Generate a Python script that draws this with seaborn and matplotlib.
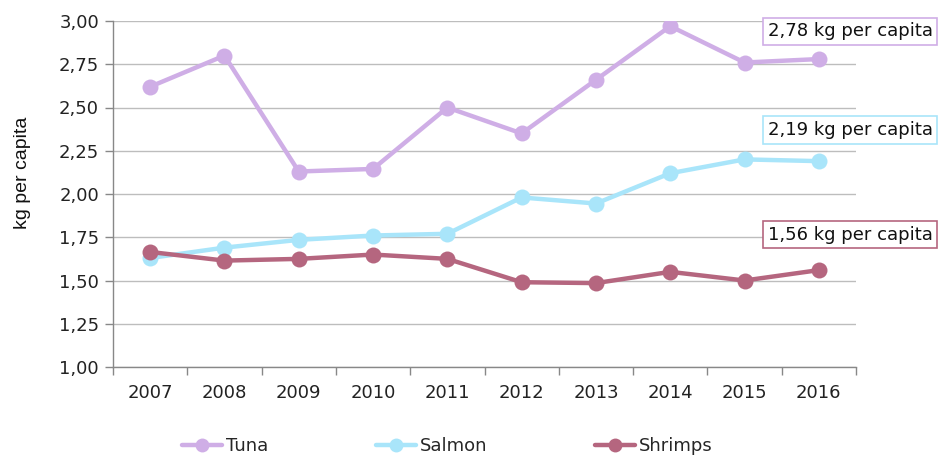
import pandas as pd
import matplotlib.pyplot as plt
import seaborn as sns
import numpy as np
from matplotlib.ticker import FixedLocator, FuncFormatter
from matplotlib.lines import Line2D

# --- Data ---
years = ['2007', '2008', '2009', '2010', '2011', '2012', '2013', '2014', '2015', '2016']
tuna = [2.62, 2.80, 2.13, 2.145, 2.50, 2.35, 2.66, 2.97, 2.76, 2.78]
salmon = [1.63, 1.69, 1.735, 1.76, 1.77, 1.98, 1.945, 2.12, 2.20, 2.19]
shrimps = [1.665, 1.615, 1.625, 1.65, 1.625, 1.49, 1.485, 1.55, 1.50, 1.56]
labels = ['2,78 kg per capita', '2,19 kg per capita', '1,56 kg per capita']
series_names = ['Tuna', 'Salmon', 'Shrimps']

colors = {'Tuna': '#CFAEE6', 'Salmon': '#A9E5FA', 'Shrimps': '#B5667F'}

df = pd.DataFrame({'pos': list(range(len(years))) * 3,
                   'value': tuna + salmon + shrimps,
                   'series': ['Tuna'] * 10 + ['Salmon'] * 10 + ['Shrimps'] * 10})

# --- Styling ---
sns.set_theme(style="white")
plt.rcParams['font.family'] = ['DejaVu Sans']

fig = plt.figure(figsize=(9.42, 4.55), dpi=100)
ax = fig.add_axes([113 / 942, 1 - 367 / 455, (856 - 113) / 942, (367 - 21) / 455])

sns.lineplot(data=df, x='pos', y='value', hue='series', palette=colors, marker='o',
             markersize=11.5, markeredgewidth=0, linewidth=3.2, ax=ax, legend=False)

ax.set_xlim(-0.5, 9.5)
ax.set_ylim(1.0, 3.0)
ax.set_yticks(np.arange(1.0, 3.01, 0.25))
ax.yaxis.set_major_formatter(FuncFormatter(lambda v, p: f'{v:.2f}'.replace('.', ',')))
ax.set_xticks(range(len(years)))
ax.set_xticklabels(years)
ax.xaxis.set_minor_locator(FixedLocator(np.arange(-0.5, 9.6, 1)))
ax.tick_params(axis='x', which='major', length=0, pad=12, labelsize=13, labelcolor='#222222')
ax.tick_params(axis='x', which='minor', length=6, color='#888888', width=1, direction='out', bottom=True)
ax.tick_params(axis='y', length=6, color='#888888', width=1, direction='out', left=True,
               labelsize=13, labelcolor='#222222', pad=4)
ax.grid(axis='y', color='#BDBDBD', linewidth=1)
for s in ['top', 'right']:
    ax.spines[s].set_visible(False)
for s in ['left', 'bottom']:
    ax.spines[s].set_color('#888888')
    ax.spines[s].set_linewidth(1)
ax.set_xlabel('')
ax.set_ylabel('kg per capita', fontsize=14, family=['Liberation Sans'], color='#111111')
ax.yaxis.set_label_coords(-0.11, 0.56)

# Annotation boxes (right-hand value callouts)
box_y = [2.94, 2.37, 1.765]
box_x = (850 - 113) / (856 - 113)
for txt, yv, name in zip(labels, box_y, series_names):
    ax.text(box_x, yv, txt, transform=ax.get_yaxis_transform(),
            ha='center', va='center', fontsize=13, color='#111111', clip_on=False,
            bbox=dict(boxstyle='square,pad=0.25', facecolor='white', edgecolor=colors[name], linewidth=1.2))

# Legend
handles = [Line2D([0], [0], color=colors[n], marker='o', markersize=10, markeredgewidth=0, linewidth=3.2)
           for n in series_names]
fig.legend(handles, series_names, loc='center', bbox_to_anchor=(0.475, 0.02),
           ncol=3, frameon=False, fontsize=13, handlelength=2.2, handletextpad=0.2, columnspacing=6.0)

plt.savefig('out.png', dpi=100)
